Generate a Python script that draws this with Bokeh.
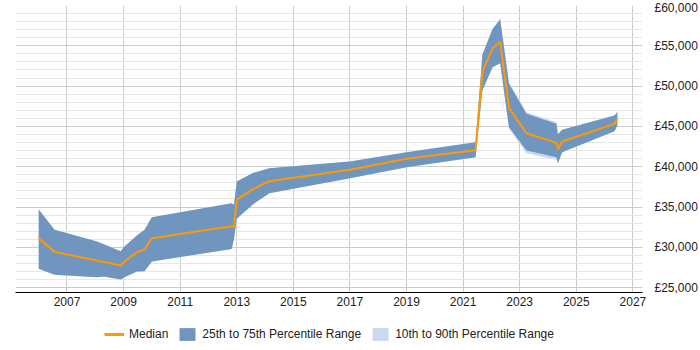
from bokeh.plotting import figure
from bokeh.layouts import column
from bokeh.models import (Legend, LegendItem, FixedTicker, SingleIntervalTicker,
                          CustomJSTickFormatter, Range1d, ColumnDataSource)
from bokeh.embed import file_html
from bokeh.resources import INLINE

# ---- data ----
band_years = [2006.0, 2006.56, 2008.06, 2008.3, 2008.9, 2009.0, 2009.47, 2009.74, 2010.0,
              2012.82, 2012.9, 2013.0, 2013.59, 2014.15, 2017.0, 2019.0, 2021.44,
              2021.68, 2022.04, 2022.31, 2022.62, 2023.24, 2024.3, 2024.35, 2024.5,
              2026.35, 2026.45]
p25 = [27335, 26590, 26300, 26380, 26000, 26215, 27000, 27040, 28240,
       29810, 31000, 33535, 35390, 36720, 38580, 39940, 41180,
       49450, 52345, 52840, 44900, 42010, 41180, 40435, 41800,
       44400, 45110]
p75 = [34690, 32170, 30720, 30400, 29520, 30010, 31465, 32170, 33735,
       35470, 35300, 38163, 39240, 39820, 40645, 41800, 43040,
       53885, 57100, 58260, 50285, 46560, 45320, 44000, 44580,
       46350, 46770]
p10 = [27335, 26590, 26300, 26380, 26000, 26215, 27000, 27040, 28240,
       29810, 31000, 33535, 35390, 36720, 38580, 39940, 41180,
       49450, 52345, 52840, 44700, 41675, 40850, 40300, 41800,
       44400, 45110]
p90 = [34690, 32170, 30720, 30400, 29520, 30010, 31465, 32170, 33735,
       35470, 35300, 38163, 39240, 39820, 40645, 41800, 43040,
       53885, 57100, 58450, 50500, 46770, 45530, 44100, 44580,
       46350, 46900]

median_years = [2006.0, 2006.56, 2008.9, 2009.0, 2009.47, 2009.74, 2010.0,
                2012.82, 2012.9, 2013.0, 2013.59, 2014.15, 2017.0, 2019.0, 2021.44,
                2021.68, 2022.04, 2022.31, 2022.62, 2023.24, 2024.3, 2024.35, 2024.5,
                2026.35, 2026.45]
median = [31129, 29440, 27742, 28153, 29392, 29727, 31129,
          32618, 32500, 35930, 37258, 38201, 39615, 40980, 42047,
          51725, 54702, 55496, 47308, 44157, 42965, 42134, 43126,
          45322, 45943]

x_ticks = [2007, 2009, 2011, 2013, 2015, 2017, 2019, 2021, 2023, 2025, 2027]
legend_labels = ["Median", "25th to 75th Percentile Range", "10th to 90th Percentile Range"]

FONT = "Liberation Sans"
DARK = "#7096bf"
LIGHT = "#c9daee"
ORANGE = "#ff9900"

band_src = ColumnDataSource(dict(x=band_years, p10=p10, p90=p90, p25=p25, p75=p75))
med_src = ColumnDataSource(dict(x=median_years, y=median))

p = figure(width=700, height=312, output_backend="svg", toolbar_location=None,
           y_axis_location="right",
           x_range=Range1d(2005.18, 2027.34), y_range=Range1d(24400, 60000),
           min_border_left=15, min_border_top=5, min_border_right=57, min_border_bottom=20)
p.outline_line_color = None
p.background_fill_color = "white"

p.varea(x="x", y1="p10", y2="p90", source=band_src, fill_color=LIGHT)
p.varea(x="x", y1="p25", y2="p75", source=band_src, fill_color=DARK)
p.line(x="x", y="y", source=med_src, line_color=ORANGE, line_width=2)

# axes
p.xaxis.ticker = FixedTicker(ticks=x_ticks)
p.xaxis.axis_line_color = "black"
p.xaxis.major_tick_line_color = None
p.xaxis.minor_tick_line_color = None
p.xaxis.major_tick_out = 0
p.xaxis.major_tick_in = 0
p.xaxis.major_label_text_font = FONT
p.xaxis.major_label_text_font_size = "12px"
p.xaxis.major_label_text_color = "#222222"
p.xaxis.major_label_standoff = 4

p.yaxis.ticker = SingleIntervalTicker(interval=5000, num_minor_ticks=5)
p.yaxis.formatter = CustomJSTickFormatter(code="return '\u00a3' + Math.round(tick).toLocaleString('en-GB');")
p.yaxis.axis_line_color = None
p.yaxis.major_tick_line_color = None
p.yaxis.minor_tick_line_color = None
p.yaxis.major_tick_out = 0
p.yaxis.major_tick_in = 0
p.yaxis.major_label_text_font = FONT
p.yaxis.major_label_text_font_size = "12px"
p.yaxis.major_label_text_color = "#222222"
p.yaxis.major_label_standoff = 8

p.xgrid.grid_line_color = "#cccccc"
p.ygrid.grid_line_color = "#cccccc"
p.ygrid.minor_grid_line_color = "#e6e6e6"

# ---- legend strip (separate figure under the chart) ----
lg = figure(width=700, height=38, output_backend="svg", toolbar_location=None,
            x_range=Range1d(0, 1), y_range=Range1d(0, 1),
            min_border=0, x_axis_type=None, y_axis_type=None)
lg.outline_line_color = None
lg.xgrid.visible = False
lg.ygrid.visible = False
# key glyphs only: their data lie outside the strip's visible range
key_x = [5, 6]
key_y = [5, 6]
g_med = lg.line(x=key_x, y=key_y, line_color=ORANGE, line_width=3)
g_dark = lg.varea(x=key_x, y1=key_y, y2=key_y, fill_color=DARK)
g_light = lg.varea(x=key_x, y1=key_y, y2=key_y, fill_color=LIGHT)

legend = Legend(items=[
    LegendItem(label=legend_labels[0], renderers=[g_med]),
    LegendItem(label=legend_labels[1], renderers=[g_dark]),
    LegendItem(label=legend_labels[2], renderers=[g_light]),
], orientation="horizontal", location=(89, 8))
legend.label_text_font = FONT
legend.label_text_font_size = "12px"
legend.label_text_color = "#222222"
legend.border_line_color = None
legend.background_fill_alpha = 0
legend.glyph_width = 20
legend.glyph_height = 16
legend.spacing = 9
legend.label_standoff = 5
legend.padding = 0
legend.margin = 0
lg.add_layout(legend, "center")

layout = column(p, lg, spacing=0)
open("out.html", "w").write(file_html(layout, INLINE))
